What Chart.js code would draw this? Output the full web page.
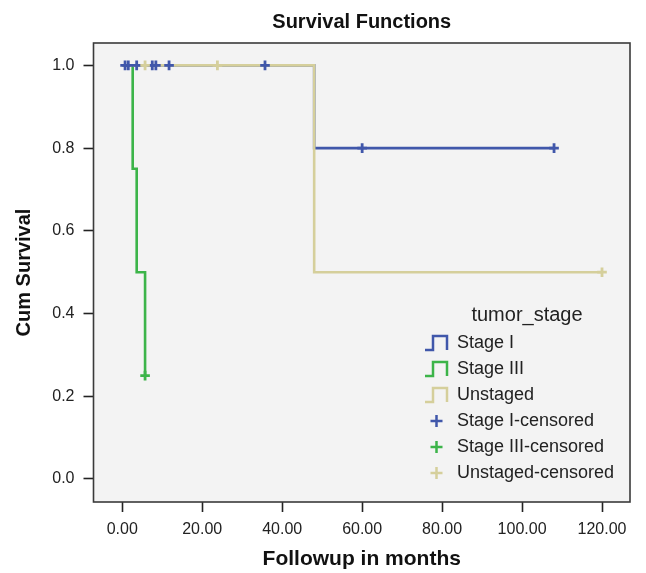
<!DOCTYPE html>
<html>
<head>
<meta charset="utf-8">
<title>Survival Functions</title>
<script src="https://cdn.jsdelivr.net/npm/chart.js@4.4.1/dist/chart.umd.min.js"></script>
<style>
  html, body { margin: 0; padding: 0; background: #ffffff; }
  #wrap { width: 646px; height: 573px; }
</style>
</head>
<body>
<div id="wrap"><canvas id="grafico-sobrevida" width="646" height="573"></canvas></div>
<script>
// dados (meses / sobrevida acumulada)
const stageITimes = [0, 48, 108];
const stageISurv = [1.0, 0.8, 0.8];
const stageIIITimes = [0, 2.6, 3.6, 5.7];
const stageIIISurv = [1.0, 0.75, 0.5, 0.25];
const unstagedTimes = [0, 48, 120];
const unstagedSurv = [1.0, 0.5, 0.5];

const stageICensTimes = [0.7, 1.5, 3.6, 7.5, 8.4, 11.7, 35.7, 60, 108];
const stageICensSurv = [1, 1, 1, 1, 1, 1, 1, 0.8, 0.8];
const stageIIICensTimes = [5.7];
const stageIIICensSurv = [0.25];
const unstagedCensTimes = [5.7, 23.8, 120];
const unstagedCensSurv = [1, 1, 0.5];

const groupLabels = ['Stage I', 'Stage III', 'Unstaged'];
const xTicks = [0, 20, 40, 60, 80, 100, 120];
const yTicks = [0.0, 0.2, 0.4, 0.6, 0.8, 1.0];

(function () {
    const cores = ['#4057aa', '#3cb449', '#d5cf9b'];
    const FONTE = "'Liberation Sans', Arial, Helvetica, sans-serif";

    function pontos(xs, ys) {
        return xs.map((x, i) => ({ x: x, y: ys[i] }));
    }

    const linhas = [
        pontos(stageITimes, stageISurv),
        pontos(stageIIITimes, stageIIISurv),
        pontos(unstagedTimes, unstagedSurv)
    ];
    const censurados = [
        pontos(stageICensTimes, stageICensSurv),
        pontos(stageIIICensTimes, stageIIICensSurv),
        pontos(unstagedCensTimes, unstagedCensSurv)
    ];

    const datasets = [];
    groupLabels.forEach((nome, i) => {
        datasets.push({
            label: nome,
            data: linhas[i],
            borderColor: cores[i],
            borderWidth: 2.6,
            stepped: true,
            pointRadius: 0,
            fill: false,
            order: 6 - i
        });
    });
    groupLabels.forEach((nome, i) => {
        datasets.push({
            label: nome + '-censored',
            data: censurados[i],
            borderColor: cores[i],
            showLine: false,
            pointStyle: 'cross',
            pointRadius: 4.8,
            pointBorderWidth: 2.8,
            order: 3 - i
        });
    });

    // fundo cinza e moldura da área do gráfico
    const molduraPlugin = {
        id: 'moldura',
        beforeDraw(chart) {
            const a = chart.chartArea;
            const ctx = chart.ctx;
            ctx.save();
            ctx.fillStyle = '#f3f3f3';
            ctx.fillRect(a.left, a.top, a.right - a.left, a.bottom - a.top);
            ctx.restore();
        },
        afterDraw(chart) {
            const a = chart.chartArea;
            const ctx = chart.ctx;
            ctx.save();
            ctx.strokeStyle = '#3a3a3a';
            ctx.lineWidth = 1.6;
            ctx.strokeRect(a.left, a.top, a.right - a.left, a.bottom - a.top);
            ctx.restore();
        }
    };

    // legenda desenhada dentro da área do gráfico
    const legendaPlugin = {
        id: 'legendaInterna',
        afterDraw(chart) {
            const ctx = chart.ctx;
            ctx.save();
            ctx.fillStyle = '#222';
            ctx.textBaseline = 'middle';
            ctx.textAlign = 'center';
            ctx.font = '20px ' + FONTE;
            ctx.fillText('tumor_stage', 527, 315);

            ctx.textAlign = 'left';
            ctx.font = '18px ' + FONTE;
            chart.data.datasets.forEach((ds, i) => {
                const cy = 343 + i * 26;
                ctx.strokeStyle = ds.borderColor;
                ctx.lineWidth = 2.5;
                ctx.beginPath();
                if (ds.showLine === false) {
                    ctx.moveTo(430.5, cy);
                    ctx.lineTo(442.5, cy);
                    ctx.moveTo(436.5, cy - 6);
                    ctx.lineTo(436.5, cy + 6);
                } else {
                    ctx.moveTo(425, cy + 7);
                    ctx.lineTo(433, cy + 7);
                    ctx.lineTo(433, cy - 7);
                    ctx.lineTo(447, cy - 7);
                    ctx.lineTo(447, cy + 7);
                }
                ctx.stroke();
                ctx.fillStyle = '#222';
                ctx.fillText(ds.label, 457, cy);
            });
            ctx.restore();
        }
    };

    Chart.defaults.font.family = FONTE;
    Chart.defaults.color = '#222';

    const ctx = document.getElementById('grafico-sobrevida').getContext('2d');
    new Chart(ctx, {
        type: 'line',
        data: { datasets },
        options: {
            responsive: false,
            animation: false,
            layout: { padding: { top: 0, right: 16, bottom: 0, left: 0 } },
            plugins: {
                legend: { display: false },
                tooltip: { enabled: false },
                title: {
                    display: true,
                    fullSize: false,
                    text: 'Survival Functions',
                    color: '#111',
                    font: { size: 20, weight: 'bold' },
                    padding: { top: 10, bottom: 9 }
                }
            },
            scales: {
                x: {
                    type: 'linear',
                    min: -7.2,
                    max: 127,
                    afterBuildTicks: (s) => { s.ticks = xTicks.map(v => ({ value: v })); },
                    afterFit: (s) => { s.height = 71; },
                    ticks: {
                        color: '#222',
                        font: { size: 16 },
                        padding: 8,
                        maxRotation: 0,
                        callback: (v) => Number(v).toFixed(2)
                    },
                    grid: {
                        drawOnChartArea: false,
                        drawTicks: true,
                        tickLength: 10,
                        tickColor: '#222',
                        tickWidth: 1.6
                    },
                    border: { display: false },
                    title: {
                        display: true,
                        text: 'Followup in months',
                        color: '#111',
                        font: { size: 21, weight: 'bold' },
                        padding: { top: 0, bottom: 1 }
                    }
                },
                y: {
                    type: 'linear',
                    min: -0.0557,
                    max: 1.0542,
                    afterBuildTicks: (s) => { s.ticks = yTicks.map(v => ({ value: v })); },
                    afterFit: (s) => { s.width = 93.5; },
                    ticks: {
                        color: '#222',
                        font: { size: 16 },
                        padding: 9,
                        callback: (v) => Number(v).toFixed(1)
                    },
                    grid: {
                        drawOnChartArea: false,
                        drawTicks: true,
                        tickLength: 10,
                        tickColor: '#222',
                        tickWidth: 1.6
                    },
                    border: { display: false },
                    title: {
                        display: true,
                        text: 'Cum Survival',
                        color: '#111',
                        font: { size: 20, weight: 'bold' },
                        padding: { top: 12, bottom: 0 }
                    }
                }
            }
        },
        plugins: [molduraPlugin, legendaPlugin]
    });
})();
</script>
</body>
</html>
